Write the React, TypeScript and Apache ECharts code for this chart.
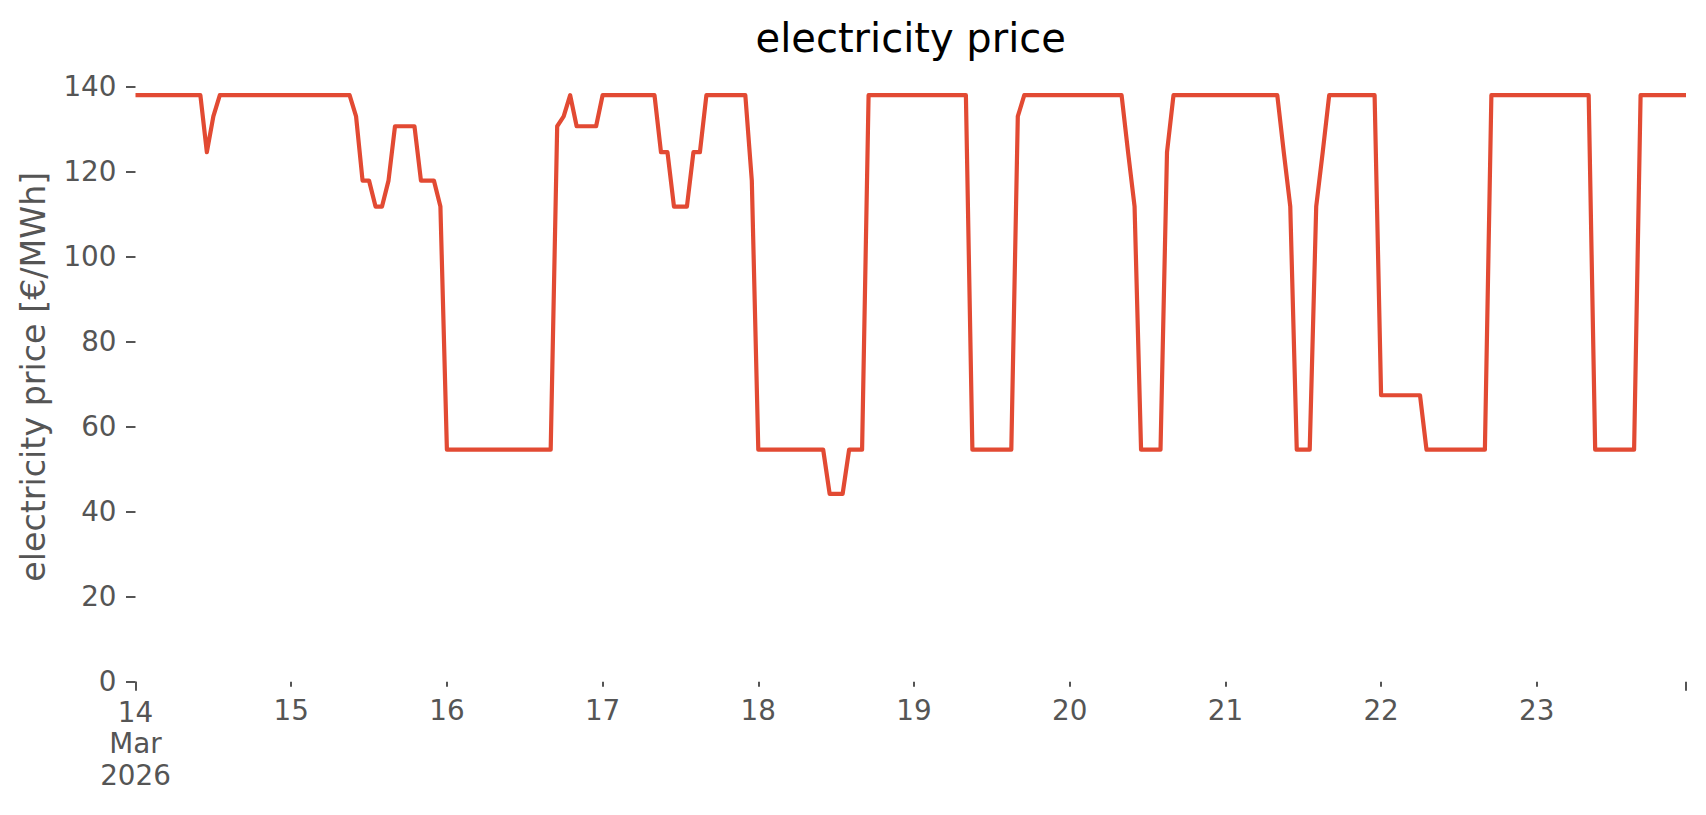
import React, { useEffect, useRef } from "react";
import * as echarts from "echarts";

const TITLE = "electricity price";
const Y_NAME = "electricity price [€/MWh]";
const START_DAY = "14";
const START_MONTH = "Mar";
const START_YEAR = "2026";
const DAY_LABELS = ["14", "15", "16", "17", "18", "19", "20", "21", "22", "23"];
const Y_TICKS = [0, 20, 40, 60, 80, 100, 120, 140];

// hourly prices [€/MWh], one array per day (14 … 23 March 2026)
const DAY14 = [138, 138, 138, 138, 138, 138, 138, 138, 138, 138, 138, 124.6, 133, 138, 138, 138, 138, 138, 138, 138, 138, 138, 138, 138];
const DAY15 = [138, 138, 138, 138, 138, 138, 138, 138, 138, 138, 133, 117.9, 117.9, 111.8, 111.8, 117.9, 130.7, 130.7, 130.7, 130.7, 117.9, 117.9, 117.9, 111.8];
const DAY16 = [54.6, 54.6, 54.6, 54.6, 54.6, 54.6, 54.6, 54.6, 54.6, 54.6, 54.6, 54.6, 54.6, 54.6, 54.6, 54.6, 54.6, 130.7, 133, 138, 130.7, 130.7, 130.7, 130.7];
const DAY17 = [138, 138, 138, 138, 138, 138, 138, 138, 138, 124.6, 124.6, 111.8, 111.8, 111.8, 124.6, 124.6, 138, 138, 138, 138, 138, 138, 138, 117.9];
const DAY18 = [54.6, 54.6, 54.6, 54.6, 54.6, 54.6, 54.6, 54.6, 54.6, 54.6, 54.6, 44.2, 44.2, 44.2, 54.6, 54.6, 54.6, 138, 138, 138, 138, 138, 138, 138];
const DAY19 = [138, 138, 138, 138, 138, 138, 138, 138, 138, 54.6, 54.6, 54.6, 54.6, 54.6, 54.6, 54.6, 133, 138, 138, 138, 138, 138, 138, 138];
const DAY20 = [138, 138, 138, 138, 138, 138, 138, 138, 138, 124.6, 111.8, 54.6, 54.6, 54.6, 54.6, 124.6, 138, 138, 138, 138, 138, 138, 138, 138];
const DAY21 = [138, 138, 138, 138, 138, 138, 138, 138, 138, 124.6, 111.8, 54.6, 54.6, 54.6, 111.8, 124.6, 138, 138, 138, 138, 138, 138, 138, 138];
const DAY22 = [67.4, 67.4, 67.4, 67.4, 67.4, 67.4, 67.4, 54.6, 54.6, 54.6, 54.6, 54.6, 54.6, 54.6, 54.6, 54.6, 54.6, 138, 138, 138, 138, 138, 138, 138];
const DAY23 = [138, 138, 138, 138, 138, 138, 138, 138, 138, 54.6, 54.6, 54.6, 54.6, 54.6, 54.6, 54.6, 138, 138, 138, 138, 138, 138, 138, 138];

const PRICES = [...DAY14, ...DAY15, ...DAY16, ...DAY17, ...DAY18, ...DAY19, ...DAY20, ...DAY21, ...DAY22, ...DAY23];
const LAST_HOUR = PRICES.length - 1;

const FONT = "DejaVu Sans";
const GREY = "#555555";
const LINE = "#E24A33";

export default function App() {
  const ref = useRef<HTMLDivElement>(null);

  useEffect(() => {
    if (!ref.current) return;
    const chart = echarts.init(ref.current, undefined, { renderer: "svg" });
    const gridLeft = 135.5;
    const gridRight = 20;
    const plotCenter = gridLeft + (1706 - gridLeft - gridRight) / 2;

    chart.setOption({
      animation: false,
      backgroundColor: "#ffffff",
      textStyle: { fontFamily: FONT },
      graphic: [
        {
          type: "text",
          x: plotCenter,
          y: 18,
          style: {
            text: TITLE,
            fill: "#000000",
            font: `40px "${FONT}"`,
            textAlign: "center",
            textVerticalAlign: "top",
          },
        },
      ],
      grid: { left: gridLeft, right: gridRight, top: 86.7, bottom: 133.3, containLabel: false },
      xAxis: [
        {
          type: "value",
          min: 0,
          max: LAST_HOUR,
          interval: 24,
          axisLine: { show: false },
          splitLine: { show: false },
          axisTick: { show: true, length: 5, lineStyle: { color: GREY, width: 2 } },
          axisLabel: {
            show: true,
            margin: 13,
            color: GREY,
            fontSize: 27.8,
            lineHeight: 32.5,
            fontFamily: FONT,
            showMaxLabel: false,
            rich: {
              first: { color: GREY, fontSize: 27.8, lineHeight: 32.5, fontFamily: FONT, padding: [3, 0, 0, 0] },
            },
            formatter: (v: number) => {
              if (v % 24 !== 0) return "";
              const i = v / 24;
              if (i === 0) return `{first|${START_DAY}}\n${START_MONTH}\n${START_YEAR}`;
              return DAY_LABELS[i] ?? "";
            },
          },
        },
        {
          type: "value",
          position: "bottom",
          min: 0,
          max: LAST_HOUR,
          interval: LAST_HOUR,
          axisLine: { show: false },
          splitLine: { show: false },
          axisLabel: { show: false },
          axisTick: { show: true, length: 9, lineStyle: { color: GREY, width: 2 } },
        },
      ],
      yAxis: {
        type: "value",
        min: Y_TICKS[0],
        max: Y_TICKS[Y_TICKS.length - 1],
        interval: 20,
        name: Y_NAME,
        nameLocation: "middle",
        nameGap: 86,
        nameRotate: 90,
        nameTextStyle: { color: GREY, fontSize: 33.3, fontFamily: FONT, padding: [0, 0, 0, 15] },
        axisLine: { show: false },
        splitLine: { show: false },
        axisTick: { show: true, length: 9.5, lineStyle: { color: GREY, width: 2 } },
        axisLabel: { margin: 19, color: GREY, fontSize: 27.8, fontFamily: FONT },
      },
      series: [
        {
          type: "line",
          xAxisIndex: 0,
          data: PRICES.map((v, i) => [i, v]),
          showSymbol: false,
          symbol: "none",
          lineStyle: { color: LINE, width: 4.2, join: "round", cap: "butt" },
          itemStyle: { color: LINE },
        },
      ],
    });

    return () => chart.dispose();
  }, []);

  return (
    <div
      ref={ref}
      style={{ position: "fixed", left: 0, top: 0, width: 1706, height: 815, background: "#fff" }}
    />
  );
}
